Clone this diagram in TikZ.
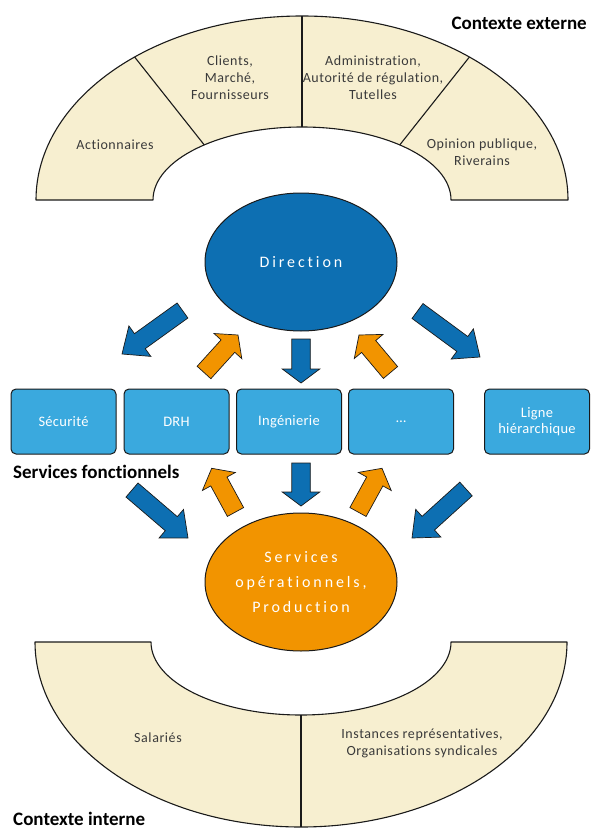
\documentclass[tikz,border=0pt]{standalone}
\usepackage{fontspec}
\setmainfont{Carlito}[Ligatures=NoCommon]
\newfontfamily\archfont[LetterSpace=4,Ligatures=NoCommon]{Carlito}
\newfontfamily\ellfont[LetterSpace=18,Ligatures=NoCommon]{Carlito}
\newfontfamily\boxfont[LetterSpace=2,Ligatures=NoCommon]{Carlito}
\usetikzlibrary{calc,shapes.geometric}
\definecolor{cream}{HTML}{F7EFD0}
\definecolor{dblue}{HTML}{0D6FB2}
\definecolor{lblue}{HTML}{3AA9DE}
\definecolor{orng}{HTML}{F29400}
\definecolor{outl}{HTML}{1A1A1A}
\definecolor{txtgray}{HTML}{3A3A3A}
\newcommand{\blockarrow}[4]{%
  \coordinate (ba-h) at ($(#2)!#3!(#1)$);
  \draw[#4] ($(#1)!9.25pt!90:(#2)$) -- ($(ba-h)!9.25pt!90:(#2)$) -- ($(ba-h)!18.75pt!90:(#2)$) -- (#2) -- ($(ba-h)!18.75pt!-90:(#2)$) -- ($(ba-h)!9.25pt!-90:(#2)$) -- ($(#1)!9.25pt!-90:(#2)$) -- cycle;
}
\tikzset{
  arch/.style={draw=outl, line width=1.1pt, fill=cream, line join=round},
  divline/.style={draw=outl, line width=1.1pt},
  archtxt/.style={text=txtgray, font=\archfont\fontsize{14}{17}\selectfont, align=center, inner sep=0pt},
  ell/.style={ellipse, draw=outl, line width=1pt, minimum width=192pt, minimum height=138pt, inner sep=0pt, text=white, align=center, font=\ellfont\fontsize{16}{25}\selectfont},
  fbox/.style={rectangle, rounded corners=5pt, draw=outl, line width=1pt, fill=lblue, minimum width=105pt, minimum height=65pt, inner sep=0pt, text=white, align=center, font=\boxfont\fontsize{14.5}{16.5}\selectfont},
  bigtitle/.style={font=\bfseries\fontsize{19}{22}\selectfont, text=black, inner sep=0pt},
  barrow/.style={draw=outl, line width=0.7pt, fill=dblue, line join=miter},
  oarrow/.style={draw=outl, line width=0.7pt, fill=orng, line join=miter}
}
\begin{document}
\begin{tikzpicture}[x=1pt,y=1pt]
\useasboundingbox (0,0) rectangle (590,-829);
% top arch
\coordinate (tc) at (302,-200);
\draw[arch] (36,-200) arc[start angle=180,end angle=0,x radius=266pt,y radius=184pt] -- (451,-200) arc[start angle=0,end angle=180,x radius=149pt,y radius=73pt] -- cycle;
\draw[divline] ($(tc)+(131:149pt and 73pt)$) -- ($(tc)+(129:266pt and 184pt)$);
\draw[divline] ($(tc)+(90:149pt and 73pt)$) -- ($(tc)+(90:266pt and 184pt)$);
\draw[divline] ($(tc)+(49:149pt and 73pt)$) -- ($(tc)+(51:266pt and 184pt)$);
% bottom arch
\coordinate (bc) at (301,-642);
\draw[arch] (35,-642) arc[start angle=180,end angle=360,x radius=266pt,y radius=185pt] -- (451,-642) arc[start angle=0,end angle=-180,x radius=150pt,y radius=73pt] -- cycle;
\draw[divline] ($(bc)+(0,-73)$) -- ($(bc)+(0,-185)$);
% arch labels
\node[archtxt] (actionnaires) at (115,-145) {Actionnaires};
\node[archtxt] (clients) at (230,-78) {Clients,\\Marché,\\Fournisseurs};
\node[archtxt] (admin) at (373,-78) {Administration,\\Autorité de régulation,\\Tutelles};
\node[archtxt] (opinion) at (482,-152.5) {Opinion publique,\\Riverains};
\node[archtxt] (salaries) at (158,-738) {Salariés};
\node[archtxt] (instances) at (422,-743.5) {Instances représentatives,\\Organisations syndicales};
% titles
\node[bigtitle, anchor=base east] (cext) at (587,-30) {Contexte externe};
\node[bigtitle, anchor=base west] (sfonc) at (13,-478) {Services fonctionnels};
\node[bigtitle, anchor=base west] (cint) at (13,-825) {Contexte interne};
% ellipses
\node[ell, fill=dblue] (dir) at (301,-262) {Direction};
\node[ell, fill=orng] (prod) at (301,-582) {Services\\opérationnels,\\Production};
% boxes
\node[fbox] (secu) at (63.5,-421.5) {Sécurité};
\node[fbox] (drh) at (176.5,-421.5) {DRH};
\node[fbox] (inge) at (289,-421.5) {Ingénierie};
\node[fbox] (etc) at (401,-421.5) {\dots};
\node[fbox] (ligne) at (537,-421.5) {Ligne\\hiérarchique};
% arrow end points
\coordinate (b1t) at (182.5,-310.5); \coordinate (b1h) at (122,-354);
\coordinate (b2t) at (417.5,-311);   \coordinate (b2h) at (480,-357);
\coordinate (b3t) at (301,-339);     \coordinate (b3h) at (301,-383);
\coordinate (b4t) at (301,-463);     \coordinate (b4h) at (301,-506);
\coordinate (b5t) at (132,-490);     \coordinate (b5h) at (188,-538);
\coordinate (b6t) at (466,-489);     \coordinate (b6h) at (412,-538);
\coordinate (o1t) at (204,-372.5);   \coordinate (o1h) at (238,-335);
\coordinate (o2t) at (390.5,-372.5); \coordinate (o2h) at (359,-335);
\coordinate (o3t) at (235.5,-512);   \coordinate (o3h) at (211.7,-468.3);
\coordinate (o4t) at (358,-512);     \coordinate (o4h) at (382,-468.3);
% blue arrows
\blockarrow{b1t}{b1h}{22pt}{barrow}
\blockarrow{b2t}{b2h}{22pt}{barrow}
\blockarrow{b3t}{b3h}{14pt}{barrow}
\blockarrow{b4t}{b4h}{14pt}{barrow}
\blockarrow{b5t}{b5h}{22pt}{barrow}
\blockarrow{b6t}{b6h}{22pt}{barrow}
% orange arrows
\blockarrow{o1t}{o1h}{15pt}{oarrow}
\blockarrow{o2t}{o2h}{15pt}{oarrow}
\blockarrow{o3t}{o3h}{15pt}{oarrow}
\blockarrow{o4t}{o4h}{15pt}{oarrow}
\end{tikzpicture}
\end{document}
